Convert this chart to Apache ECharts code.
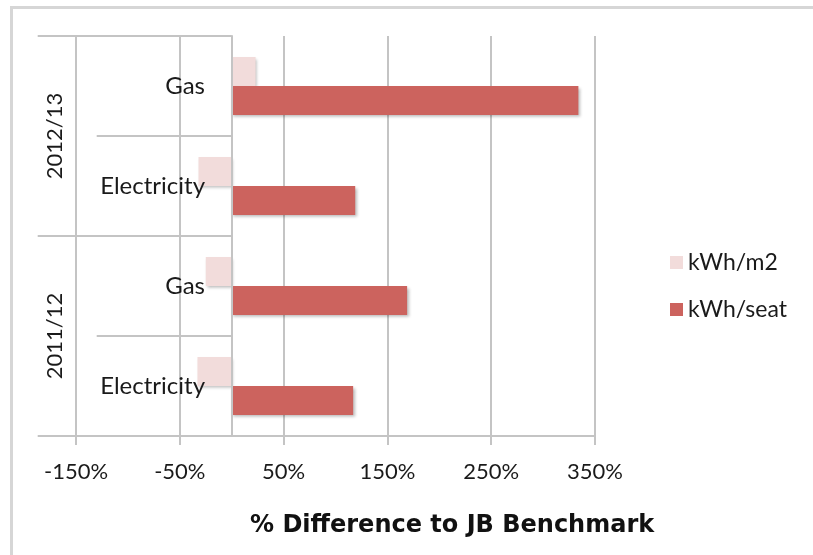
<!DOCTYPE html>
<html>
<head>
<meta charset="utf-8">
<script src="https://cdn.jsdelivr.net/npm/echarts@6/dist/echarts.min.js"></script>
<style>
  html, body { margin: 0; padding: 0; background: #fff; overflow: hidden; }
  #chart { width: 813px; height: 555px; position: absolute; left: 0; top: 0; }
  #frame { position: absolute; left: 10px; top: 6px; width: 900px; height: 700px;
           border: 3px solid #d6d6d6; box-sizing: border-box; pointer-events: none; }
</style>
</head>
<body>
<div id="chart"></div>
<div id="frame"></div>
<script>
// Data (bottom to top on the category axis)
const categories = ['Electricity', 'Gas', 'Electricity', 'Gas'];
const years = ['2011/12', '2012/13'];
const seriesNames = ['kWh/m2', 'kWh/seat'];
const kwhPerM2 = [-33, -25, -32, 23];
const kwhPerSeat = [117, 169, 119, 334];
const xTicks = { min: -150, max: 350, interval: 100 };
const axisTitle = '% Difference to JB Benchmark';

const FONT = 'Lato';
const GRID_COLOR = '#c4c4c4';

const chart = echarts.init(document.getElementById('chart'), null, { renderer: 'canvas' });

const barShadow = { shadowBlur: 3, shadowColor: 'rgba(0,0,0,0.28)', shadowOffsetX: 1.5, shadowOffsetY: 1.5 };

chart.setOption({
  animation: false,
  backgroundColor: 'transparent',
  textStyle: { fontFamily: FONT },
  title: {
    text: axisTitle,
    left: 245, top: 509,
    textStyle: { fontFamily: 'DejaVu Sans', fontWeight: 'bold', fontSize: 24, color: '#111' }
  },
  legend: {
    orient: 'vertical',
    left: 665, top: 246,
    itemWidth: 13, itemHeight: 13, itemGap: 24,
    icon: 'rect',
    data: seriesNames,
    textStyle: { fontFamily: FONT, fontSize: 23, color: '#1a1a1a' }
  },
  grid: { left: 76, right: 218, top: 36, bottom: 119, containLabel: false, outerBoundsMode: 'none' },
  xAxis: {
    type: 'value',
    min: xTicks.min, max: xTicks.max, interval: xTicks.interval,
    axisLine: { show: true, lineStyle: { color: GRID_COLOR, width: 2 } },
    axisTick: { show: true, length: 9, lineStyle: { color: GRID_COLOR, width: 2 } },
    splitLine: { show: true, lineStyle: { color: GRID_COLOR, width: 2 } },
    axisLabel: { formatter: '{value}%', fontFamily: FONT, fontSize: 22, color: '#1a1a1a', margin: 25 }
  },
  yAxis: [
    {
      type: 'category',
      data: categories,
      z: 3,
      axisLine: { show: true, onZero: true, onZeroAxisIndex: 0, lineStyle: { color: GRID_COLOR, width: 2 } },
      axisTick: { show: true, length: 135, lineStyle: { color: GRID_COLOR, width: 2 } },
      axisLabel: { fontFamily: FONT, fontSize: 24, color: '#1a1a1a', margin: -129, padding: [8, 0, 0, 0] },
      splitLine: { show: false }
    },
    {
      type: 'category',
      data: years,
      position: 'left',
      z: 3,
      axisLine: { show: false, onZero: true, onZeroAxisIndex: 0 },
      axisTick: { show: true, length: 194, lineStyle: { color: GRID_COLOR, width: 2 } },
      axisLabel: { rotate: 90, fontFamily: FONT, fontSize: 22, color: '#1a1a1a', margin: 10 },
      splitLine: { show: false }
    }
  ],
  series: [
    {
      name: seriesNames[0], type: 'bar', yAxisIndex: 0,
      data: kwhPerM2, barWidth: 29, barGap: '0%',
      itemStyle: Object.assign({ color: '#f2dcdb' }, barShadow)
    },
    {
      name: seriesNames[1], type: 'bar', yAxisIndex: 0,
      data: kwhPerSeat, barWidth: 29, barGap: '0%',
      itemStyle: Object.assign({ color: '#cc635e' }, barShadow)
    }
  ]
});
</script>
</body>
</html>
